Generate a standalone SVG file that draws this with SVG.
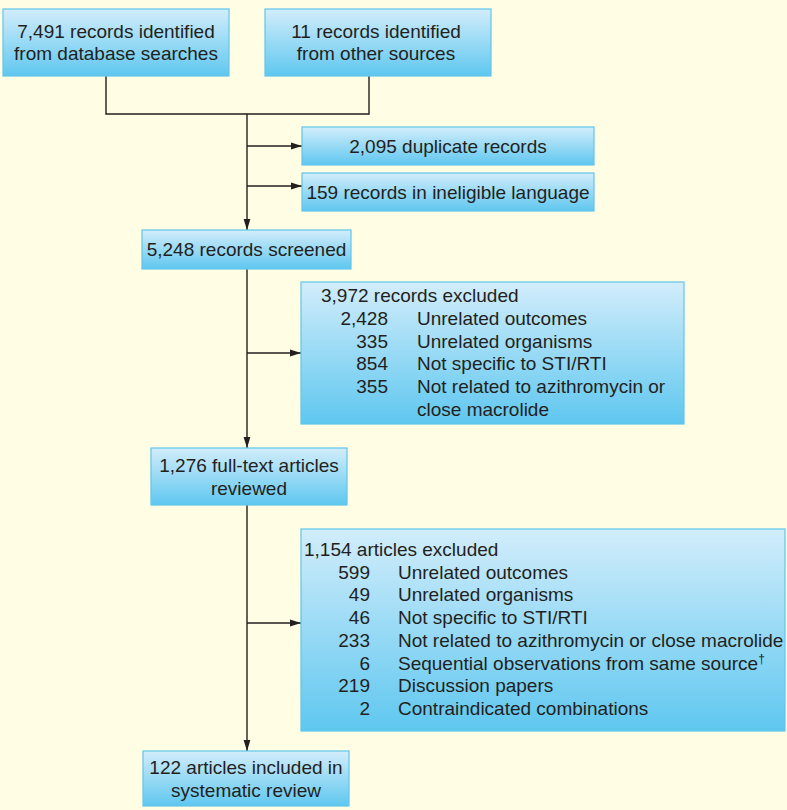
<svg xmlns="http://www.w3.org/2000/svg" width="787" height="810" viewBox="0 0 787 810">
<style>
  .box { fill: url(#g); stroke: #5fc6ec; stroke-width: 1.2; }
  .t { font-family: "Liberation Sans", Arial, sans-serif; font-size: 19px; fill: #231f20; }
  .c { text-anchor: middle; }
  .r { text-anchor: end; }
  .ln { fill: none; stroke: #231f20; stroke-width: 1.4; }
  .ar { marker-end: url(#ah); }
</style>
<defs>
  <linearGradient id="g" x1="0" y1="0" x2="0" y2="1">
    <stop offset="0" stop-color="#d2edfb"/>
    <stop offset="1" stop-color="#5fc7ef"/>
  </linearGradient>
  <marker id="ah" markerUnits="userSpaceOnUse" markerWidth="11" markerHeight="8" refX="11" refY="4" orient="auto">
    <path d="M0,0.6 L11,4 L0,7.4 z" fill="#231f20"/>
  </marker>
</defs>
<rect x="0" y="0" width="787" height="810" fill="#fffde3"/>

<g id="connectors">
  <path class="ln" d="M106,76 V114 H369 V76"/>
  <path class="ln ar" d="M247,114 V230"/>
  <path class="ln ar" d="M247,146 H302"/>
  <path class="ln ar" d="M247,186 H302"/>
  <path class="ln ar" d="M247,269 V448"/>
  <path class="ln ar" d="M247,353 H301"/>
  <path class="ln ar" d="M247,505 V751"/>
  <path class="ln ar" d="M247,623 H301"/>
</g>

<g id="n1">
  <rect class="box" x="3" y="9" width="226" height="67"/>
  <text class="t c" x="116" y="38">7,491 records identified</text>
  <text class="t c" x="116" y="60">from database searches</text>
</g>
<g id="n2">
  <rect class="box" x="265" y="9" width="226" height="67"/>
  <text class="t c" x="376" y="38">11 records identified</text>
  <text class="t c" x="376" y="60">from other sources</text>
</g>
<g id="n3">
  <rect class="box" x="302" y="127" width="292" height="38"/>
  <text class="t c" x="448" y="152.5">2,095 duplicate records</text>
</g>
<g id="n4">
  <rect class="box" x="302" y="173" width="292" height="38"/>
  <text class="t c" x="448" y="198.5">159 records in ineligible language</text>
</g>
<g id="n5">
  <rect class="box" x="142" y="230" width="209" height="39"/>
  <text class="t c" x="246.5" y="256">5,248 records screened</text>
</g>
<g id="n6">
  <rect class="box" x="301" y="282" width="383" height="142"/>
  <text class="t" x="321" y="302">3,972 records excluded</text>
  <text class="t r" x="388" y="324.8">2,428</text>
  <text class="t" x="417" y="324.8">Unrelated outcomes</text>
  <text class="t r" x="388" y="347.6">335</text>
  <text class="t" x="417" y="347.6">Unrelated organisms</text>
  <text class="t r" x="388" y="370.4">854</text>
  <text class="t" x="417" y="370.4">Not specific to STI/RTI</text>
  <text class="t r" x="388" y="393.2">355</text>
  <text class="t" x="417" y="393.2">Not related to azithromycin or</text>
  <text class="t" x="417" y="416">close macrolide</text>
</g>
<g id="n7">
  <rect class="box" x="151" y="448" width="196" height="57"/>
  <text class="t c" x="249" y="472">1,276 full-text articles</text>
  <text class="t c" x="249" y="494.5">reviewed</text>
</g>
<g id="n8">
  <rect class="box" x="301" y="529" width="484" height="202"/>
  <text class="t" x="304" y="556">1,154 articles excluded</text>
  <text class="t r" x="370" y="578.7">599</text>
  <text class="t" x="398" y="578.7">Unrelated outcomes</text>
  <text class="t r" x="370" y="601.4">49</text>
  <text class="t" x="398" y="601.4">Unrelated organisms</text>
  <text class="t r" x="370" y="624.1">46</text>
  <text class="t" x="398" y="624.1">Not specific to STI/RTI</text>
  <text class="t r" x="370" y="646.8">233</text>
  <text class="t" x="398" y="646.8">Not related to azithromycin or close macrolide</text>
  <text class="t r" x="370" y="669.5">6</text>
  <text class="t" x="398" y="669.5">Sequential observations from same source<tspan font-size="12" dy="-7">†</tspan></text>
  <text class="t r" x="370" y="692.2">219</text>
  <text class="t" x="398" y="692.2">Discussion papers</text>
  <text class="t r" x="370" y="715">2</text>
  <text class="t" x="398" y="715">Contraindicated combinations</text>
</g>
<g id="n9">
  <rect class="box" x="143" y="751" width="206" height="55"/>
  <text class="t c" x="246" y="774">122 articles included in</text>
  <text class="t c" x="246" y="796.5">systematic review</text>
</g>
</svg>
